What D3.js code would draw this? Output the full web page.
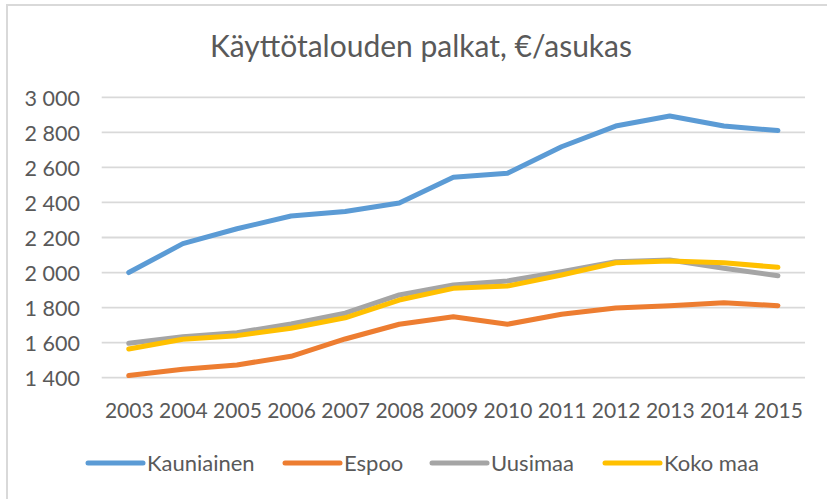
<!DOCTYPE html>
<html lang="fi">
<head>
<meta charset="UTF-8">
<title>Käyttötalouden palkat</title>
<script src="https://d3js.org/d3.v7.min.js"></script>
<style>
  body { margin: 0; background: #fff; }
  text { font-family: Lato, "Open Sans", sans-serif; fill: #595959; }
</style>
</head>
<body>
<div id="chart"></div>
<script>
// data
const years = ["2003","2004","2005","2006","2007","2008","2009","2010","2011","2012","2013","2014","2015"];
const kauniainen = [2000, 2165, 2250, 2323, 2348, 2397, 2544, 2566, 2718, 2836, 2893, 2836, 2810];
const espoo      = [1412, 1448, 1473, 1522, 1621, 1705, 1748, 1705, 1762, 1798, 1811, 1828, 1811];
const uusimaa    = [1596, 1634, 1657, 1706, 1768, 1872, 1929, 1952, 2005, 2062, 2072, 2024, 1982];
const kokoMaa    = [1564, 1619, 1640, 1682, 1742, 1843, 1910, 1923, 1986, 2056, 2066, 2056, 2030];
const yTicks = [1400, 1600, 1800, 2000, 2200, 2400, 2600, 2800, 3000];

const series = [
  { name: "Kauniainen", values: kauniainen, color: "#5B9BD5" },
  { name: "Espoo",      values: espoo,      color: "#ED7D31" },
  { name: "Uusimaa",    values: uusimaa,    color: "#A5A5A5" },
  { name: "Koko maa",   values: kokoMaa,    color: "#FFC000" }
];

const W = 827, H = 499;
const svg = d3.select("#chart").append("svg")
  .attr("width", W).attr("height", H);

// chart border
svg.append("rect")
  .attr("x", 7).attr("y", 5)
  .attr("width", 840).attr("height", 520)
  .attr("fill", "#fff")
  .attr("stroke", "#d9d9d9").attr("stroke-width", 2);

// title
svg.append("text")
  .attr("x", 421).attr("y", 57)
  .attr("text-anchor", "middle")
  .attr("font-size", "30px")
  .text("Käyttötalouden palkat, €/asukas");

const plotLeft = 101.7, plotRight = 805;
const x = d3.scalePoint().domain(years).range([plotLeft, plotRight]).padding(0.5);
const y = d3.scaleLinear().domain([1400, 3000]).range([377.7, 97.3]);

// gridlines
svg.append("g").selectAll("line").data(yTicks).join("line")
  .attr("x1", plotLeft).attr("x2", plotRight)
  .attr("y1", d => y(d)).attr("y2", d => y(d))
  .attr("stroke", "#d9d9d9").attr("stroke-width", 1.8);

// y axis labels
const fmt = d => d3.format(",")(d).replace(",", " ");
const yAxis = svg.append("g")
  .attr("transform", "translate(80,0)")
  .call(d3.axisLeft(y).tickValues(yTicks).tickFormat(fmt).tickSize(0).tickPadding(0));
yAxis.select(".domain").remove();
yAxis.selectAll("text")
  .attr("font-size", "21.5px").attr("font-family", "Lato, sans-serif")
  .attr("fill", "#595959").attr("dy", "0.38em");

// x axis labels
const xAxis = svg.append("g")
  .attr("transform", "translate(0,400)")
  .call(d3.axisBottom(x).tickSize(0).tickPadding(0));
xAxis.select(".domain").remove();
xAxis.selectAll("text")
  .attr("font-size", "21px").attr("font-family", "Lato, sans-serif")
  .attr("fill", "#595959").attr("dy", "0.85em");

// lines
const line = d3.line()
  .x((d, i) => x(years[i]))
  .y(d => y(d));

svg.append("g").selectAll("path").data(series).join("path")
  .attr("d", d => line(d.values))
  .attr("fill", "none")
  .attr("stroke", d => d.color)
  .attr("stroke-width", 5)
  .attr("stroke-linecap", "round")
  .attr("stroke-linejoin", "round");

// legend
const legendStarts = [88, 285, 432, 605];
const legendY = 463;
const lg = svg.append("g").selectAll("g").data(series).join("g")
  .attr("transform", (d, i) => `translate(${legendStarts[i]},${legendY})`);
lg.append("line")
  .attr("x1", 0).attr("x2", 55)
  .attr("stroke", d => d.color)
  .attr("stroke-width", 5)
  .attr("stroke-linecap", "round");
lg.append("text")
  .attr("x", 59).attr("dy", "0.36em")
  .attr("font-size", "22px")
  .text(d => d.name);
</script>
</body>
</html>
